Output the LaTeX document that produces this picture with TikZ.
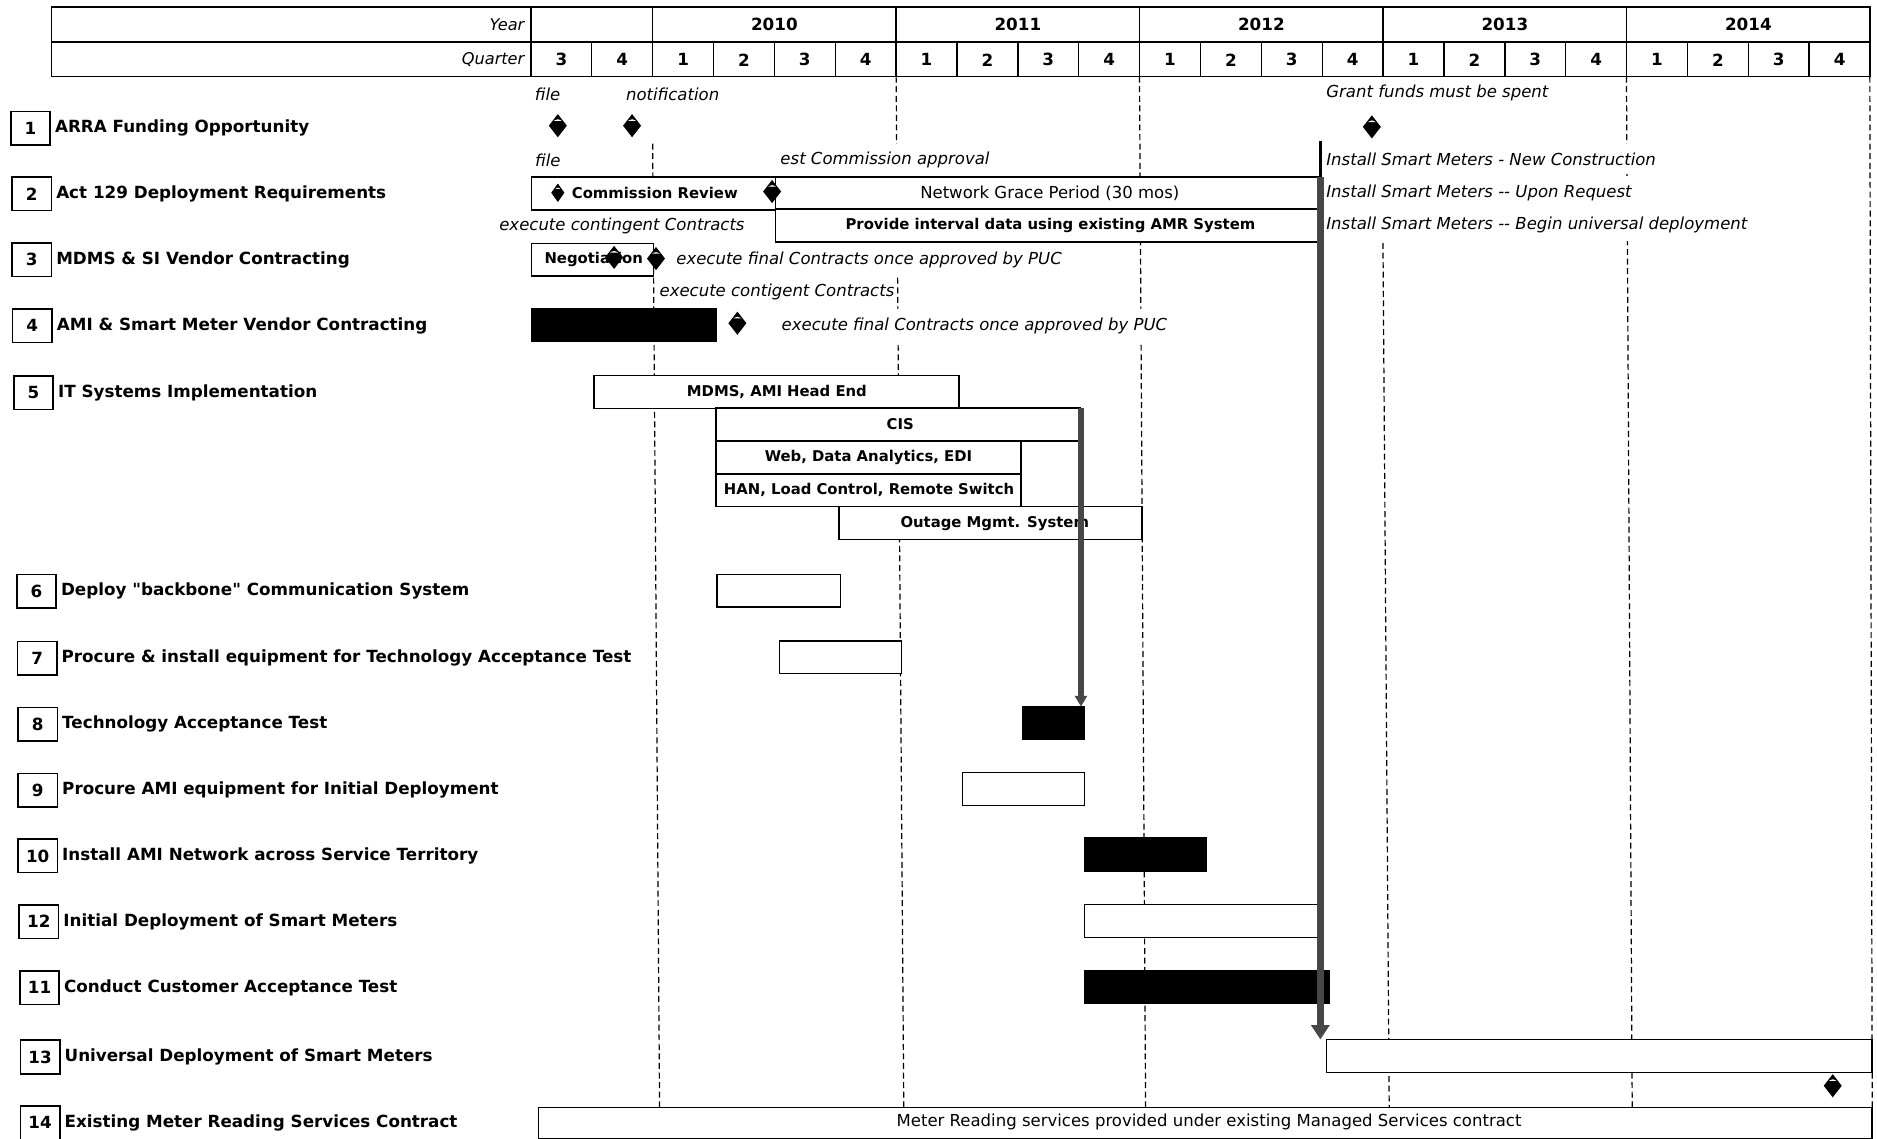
\documentclass[tikz,border=0pt]{standalone}
\usepackage{fontspec}
\setmainfont{DejaVu Sans}[Ligatures=TeXOff]
\usetikzlibrary{shapes.geometric,arrows.meta,calc}
\begin{document}
\begin{tikzpicture}[x=1pt,y=-1pt,
  every node/.style={inner sep=0pt, outer sep=0pt},
  hdr/.style={font=\fontsize{14}{14}\selectfont\bfseries},
  hlab/.style={font=\fontsize{13.5}{14}\selectfont\itshape, anchor=east},
  numbox/.style={draw, line width=1.3pt, minimum width=33pt, minimum height=28pt, font=\fontsize{14}{14}\selectfont\bfseries, anchor=west},
  rowlab/.style={font=\fontsize{14}{14}\selectfont\bfseries, anchor=west},
  bar/.style={draw, line width=1.3pt, fill=white, anchor=west, minimum height=27.5pt},
  blackbar/.style={bar, fill=black},
  btxt/.style={font=\fontsize{12.4}{13}\selectfont\bfseries},
  rtxt/.style={font=\fontsize{13.8}{14}\selectfont},
  note/.style={font=\fontsize{13.8}{14}\selectfont\itshape, fill=white, inner xsep=1pt, inner ysep=7pt},
  ms/.style={diamond, draw, line width=0.8pt, fill=black, minimum width=14pt, minimum height=18pt, inner sep=0pt,
    path picture={\fill[white] ($(path picture bounding box.north)!0.2!(path picture bounding box.south)$)
       -- ($(path picture bounding box.north)!0.55!(path picture bounding box.west)$)
       -- ($(path picture bounding box.north)!0.55!(path picture bounding box.east)$) -- cycle;}},
  mss/.style={ms, minimum width=10pt, minimum height=14pt},
  gridl/.style={line width=1pt, dash pattern=on 5pt off 3pt},
  bigarrow/.style={line width=6pt, draw=black!72, -{Triangle[length=12pt,width=15pt]}},
  midarrow/.style={line width=4.5pt, draw=black!72, -{Triangle[length=9pt,width=10pt]}},
  hline/.style={line width=1.2pt},
]
\useasboundingbox (0,0) rectangle (1568,951);

% ---------------- header table ----------------
\draw[hline] (43,6) rectangle (1562,64);
\draw[hline] (43,35) -- (1562,35);
\draw[hline] (443.5,6) -- (443.5,64);
\foreach \k in {2,6,10,14,18} \draw[hline] ({443.5+50.85*\k},6) -- ({443.5+50.85*\k},64);
\foreach \k in {1,...,21} \draw[hline] ({443.5+50.85*\k},35) -- ({443.5+50.85*\k},64);
\node[hlab] (yearlab) at (438,20.5) {Year};
\node[hlab] (qlab) at (438,50) {Quarter};
\foreach \yr [count=\i] in {2010,2011,2012,2013,2014}
  \node[hdr] (y\yr) at ({443.5+50.85*4*\i},20.5) {\yr};
\foreach \q [count=\i from 0] in {3,4,1,2,3,4,1,2,3,4,1,2,3,4,1,2,3,4,1,2,3,4}
  \node[hdr] (q\i) at ({443.5+50.85*(\i+0.5)},50) {\q};

% ---------------- dashed year lines ----------------
\draw[gridl] (545.2,120) -- (551,925);
\draw[gridl] (748.6,64) -- (755,925);
\draw[gridl] (951.9,64) -- (957,925);
\draw[gridl] (1155.3,203) -- (1160.5,925);
\draw[gridl] (1358.7,64) -- (1363.5,925);
\draw[gridl] (1562,64) -- (1564,925);

% ---------------- row labels ----------------
\foreach \n/\lx/\ly/\txt in {
  1/9/107/ARRA Funding Opportunity,
  2/10/162/Act 129 Deployment Requirements,
  3/10/217/MDMS \& SI Vendor Contracting,
  4/10.5/272/AMI \& Smart Meter Vendor Contracting,
  5/11.5/328/IT Systems Implementation,
  6/14/494/Deploy "backbone" Communication System,
  7/14.5/550/Procure \& install equipment for Technology Acceptance Test,
  8/15/605/Technology Acceptance Test,
  9/15/660/Procure AMI equipment for Initial Deployment,
  10/15/715/Install AMI Network across Service Territory,
  12/16/770/Initial Deployment of Smart Meters,
  11/16.5/825/Conduct Customer Acceptance Test,
  13/17/883/Universal Deployment of Smart Meters,
  14/17/938/Existing Meter Reading Services Contract}
{
  \node[numbox] (n\n) at (\lx,\ly) {\n};
  \node[rowlab] (t\n) at ([xshift=4pt]n\n.east) {\txt};
}

% ---------------- notes ----------------
\node[note] (nfile1) at (457.5,79) {file};
\node[note, anchor=west] (nnotif) at (522,79) {notification};
\node[note, anchor=west] (ngrant) at (1107,78) {Grant funds must be spent};
\node[note, anchor=west] (nfile2) at (446,134) {file};
\node[note, anchor=west] (nest) at (651,134) {est Commission approval};
\node[note, anchor=west] (ni1) at (1107,133) {Install Smart Meters - New Construction};
\node[note, anchor=west] (ni2) at (1107,161) {Install Smart Meters -- Upon Request};
\node[note, anchor=west] (ni3) at (1107,188) {Install Smart Meters -- Begin universal deployment};
\node[note, anchor=east] (nexc1) at (623,189) {execute contingent Contracts};
\node[note, anchor=west] (nfin1) at (564,217) {execute final Contracts once approved by PUC};
\node[note, anchor=west] (nexc2) at (550,244) {execute contigent Contracts};
\node[note, anchor=west] (nfin2) at (652,272) {execute final Contracts once approved by PUC};

% ---------------- bars ----------------
% row 2
\node[bar, minimum width=204pt] (b2cr) at (444,161.5) {};
\node[btxt] (b2crt) at (547,161.5) {Commission Review};
\node[bar, minimum width=456pt] (b2ng) at (648,161.5) {};
\node[rtxt] (b2ngt) at (877,161.5) {Network Grace Period (30 mos)};
\node[bar, minimum width=456pt] (b2amr) at (648,188.5) {};
\node[btxt] (b2amrt) at (877.5,188.5) {Provide interval data using existing AMR System};
% row 3
\node[bar, minimum width=102pt] (b3) at (444,217) {};
\node[btxt] (b3t) at (496,217) {Negotiation};
% row 4
\node[blackbar, minimum width=154pt] (b4) at (444,271.5) {};
% row 5
\node[bar, minimum width=305pt] (b5a) at (496,327.5) {};
\node[btxt] (b5at) at (649,327.5) {MDMS, AMI Head End};
\node[bar, minimum width=304pt] (cis) at (598,354.5) {};
\node[btxt] (cist) at (752,354.5) {CIS};
\node[bar, minimum width=255pt] (b5c) at (598,382) {};
\node[btxt] (b5ct) at (725.5,382) {Web, Data Analytics, EDI};
\node[bar, minimum width=255pt] (b5d) at (598,409.5) {};
\node[btxt] (b5dt) at (726,409.5) {HAN, Load Control, Remote Switch};
\node[bar, minimum width=253pt] (b5e) at (701,437) {};
\node[btxt] (b5et) at (831,437) {Outage Mgmt. System};
% rows 6 - 14
\node[bar, minimum width=103pt] (b6) at (599,493.5) {};
\node[bar, minimum width=102pt] (b7) at (651,549) {};
\node[blackbar, minimum width=52pt] (tat) at (854,604) {};
\node[bar, minimum width=102pt] (b9) at (804,659) {};
\node[blackbar, minimum width=102pt] (b10) at (906,714) {};
\node[bar, minimum width=199pt] (b12) at (906,769.5) {};
\node[blackbar, minimum width=204pt] (b11) at (906,824.5) {};
\node[bar, minimum width=456pt] (u13) at (1108,882) {};
\node[bar, minimum width=1114pt, minimum height=26pt] (b14) at (450,938) {};
\node[rtxt] (b14t) at (1010,937.5) {Meter Reading services provided under existing Managed Services contract};

% ---------------- arrows ----------------
\coordinate (gtop) at (1103,118);
\draw[line width=2pt] (gtop) -- (gtop |- b2ng.north);
\draw[bigarrow] (gtop |- b2ng.north) -- (gtop |- u13.north west);
\draw[midarrow] ([xshift=1pt]cis.north east) -- ([xshift=1pt]cis.north east |- tat.north);

% ---------------- milestones ----------------
\node[ms] (m1) at (466,105) {};
\node[ms] (m2) at (528,105) {};
\node[ms] (m3) at (1146,106) {};
\node[mss] (m4) at (466,161) {};
\node[ms] (m5) at (645,160) {};
\node[ms] (m6) at (513,215) {};
\node[ms] (m7) at (548,216) {};
\node[ms] (m8) at (616,270) {};
\node[ms] (m9) at (1531,907) {};
\end{tikzpicture}
\end{document}
